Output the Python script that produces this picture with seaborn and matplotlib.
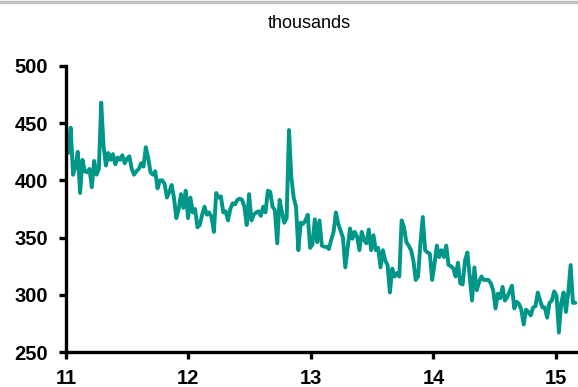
import matplotlib
matplotlib.use('Agg')
import matplotlib.pyplot as plt
import matplotlib.dates as mdates
from matplotlib.lines import Line2D
import seaborn as sns
import pandas as pd

# weekly initial claims, thousands
claims_2011 = [435, 424, 446, 405, 412, 425, 389, 418, 408, 407, 410, 394, 417, 405, 410, 468,
               430, 413, 424, 418, 423, 414, 420, 418, 422, 415, 419, 421, 410, 405, 408, 410,
               415, 412, 429, 420, 407, 405, 408, 393, 400, 400, 397, 385, 390, 396, 385, 367,
               375, 388, 376, 391]
claims_2012 = [367, 385, 372, 375, 359, 361, 370, 377, 370, 372, 368, 355, 389, 385, 386, 372,
               373, 365, 375, 380, 379, 383, 384, 383, 377, 361, 388, 365, 370, 372, 373, 369,
               377, 372, 391, 390, 377, 374, 345, 383, 372, 363, 367, 444, 403, 385, 377, 339,
               363, 362, 365, 370]
claims_2013 = [341, 344, 366, 346, 365, 343, 342, 342, 340, 348, 355, 372, 362, 356, 350, 324,
               341, 358, 349, 355, 351, 339, 355, 348, 345, 357, 339, 352, 339, 341, 324, 339,
               330, 326, 302, 323, 316, 319, 316, 365, 359, 346, 343, 339, 330, 313, 316, 345,
               368, 339, 337, 336]
claims_2014 = [313, 327, 343, 333, 339, 333, 343, 326, 325, 323, 316, 328, 310, 309, 330, 337,
               316, 295, 324, 304, 311, 316, 313, 313, 313, 310, 304, 288, 301, 297, 307, 295,
               298, 303, 308, 288, 294, 292, 287, 274, 287, 285, 282, 289, 290, 302, 295, 289,
               289, 280, 293, 295]
claims_2015 = [303, 299, 267, 293, 302, 285, 302, 326, 293, 293]

values = claims_2011 + claims_2012 + claims_2013 + claims_2014 + claims_2015
weeks = pd.date_range('2011-01-01', periods=len(values), freq='7D')
df = pd.DataFrame({'week': weeks, 'claims': values})

sns.set_style('ticks')
plt.rcParams['font.family'] = ['Liberation Sans', 'DejaVu Sans']

fig = plt.figure(figsize=(5.78, 3.87), dpi=100)
ax = fig.add_axes([0.1142, 0.0904, 0.8858, 0.7391])

sns.lineplot(data=df, x='week', y='claims', color='#009688', linewidth=2.8, ax=ax)

ax.set_ylim(250, 500)
ax.set_yticks([250, 300, 350, 400, 450, 500])
ax.set_xlim(pd.Timestamp('2011-01-01'), pd.Timestamp('2015-03-08'))
ax.set_xticks([pd.Timestamp(f'{y}-01-01') for y in range(2011, 2016)])
ax.xaxis.set_major_formatter(mdates.DateFormatter('%y'))
ax.set_xlabel('')
ax.set_ylabel('')

for s in ['top', 'right']:
    ax.spines[s].set_visible(False)
for s in ['left', 'bottom']:
    ax.spines[s].set_linewidth(2.4)
    ax.spines[s].set_color('black')
ax.tick_params(axis='both', width=2.4, length=5, color='black', labelcolor='black', labelsize=14.5)
ax.tick_params(axis='y', pad=8)
ax.tick_params(axis='x', pad=7)
for lab in ax.get_xticklabels() + ax.get_yticklabels():
    lab.set_fontweight('bold')

fig.text(0.535, 0.94, 'thousands', ha='center', va='center', fontsize=13, color='black')
fig.add_artist(Line2D([0, 1], [0.996, 0.996], transform=fig.transFigure, color='#c0c0c0', lw=2.5))

fig.savefig('out.png', dpi=100)
